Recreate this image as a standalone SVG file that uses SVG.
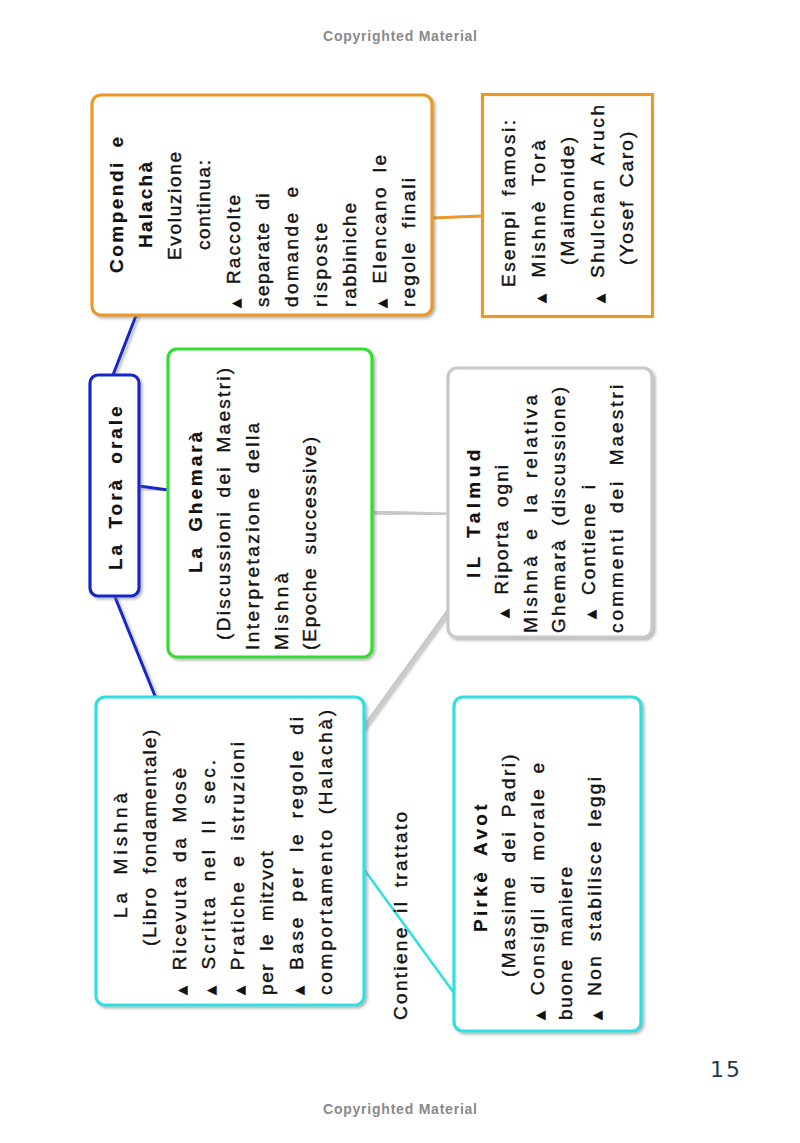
<svg xmlns="http://www.w3.org/2000/svg" width="800" height="1143" viewBox="0 0 800 1143">
<defs>
<filter id="sh" x="-10%" y="-10%" width="130%" height="130%">
<feDropShadow dx="2" dy="2" stdDeviation="1.5" flood-color="#777" flood-opacity="0.55"/>
</filter>
<style>
.t{font-family:"Liberation Sans",Arial,sans-serif;font-size:19px;fill:#111;stroke:#111;stroke-width:0.4;word-spacing:5px}
.b{font-weight:bold;stroke-width:0.2}
.tri{font-family:"DejaVu Sans",sans-serif;font-size:12px}
.box{fill:#fff;stroke-width:3.2}
.orange{stroke:#e99a26}
.green{stroke:#33dd33}
.cyan{stroke:#2fe0e0}
.gray{stroke:#c8c8c8}
.blue{stroke:#1428c8}
.c{fill:none;stroke-linecap:round}
.hdr{font-family:"Liberation Sans",Arial,sans-serif;font-weight:bold;font-size:14px;fill:#8a8a8a}
</style>
</defs>
<rect width="800" height="1143" fill="#fff"/>
<text class="hdr" x="323" y="41" textLength="154">Copyrighted Material</text>
<text class="hdr" x="323" y="1114" textLength="154">Copyrighted Material</text>
<text x="710" y="1077" font-family="DejaVu Sans, sans-serif" font-size="22" fill="#1d3b4a" letter-spacing="2">15</text>

<g id="connectors">
<line class="c blue" x1="137" y1="313" x2="113" y2="375" stroke-width="3" filter="url(#sh)"/>
<line class="c blue" x1="139" y1="486" x2="168" y2="490" stroke-width="3" filter="url(#sh)"/>
<line class="c blue" x1="115" y1="597" x2="155" y2="696" stroke-width="3" filter="url(#sh)"/>
<line class="c orange" x1="432" y1="218" x2="482" y2="216" stroke-width="3"/>
<line class="c gray" x1="373" y1="512" x2="447" y2="514" stroke-width="3" filter="url(#sh)"/>
<line class="c gray" x1="447" y1="612" x2="363" y2="728" stroke-width="3" filter="url(#sh)"/>
<line class="c cyan" x1="363" y1="868" x2="454" y2="993" stroke-width="2.5"/>
<text class="t" transform="translate(407,1020) rotate(-90)" letter-spacing="2.31">Contiene il trattato</text>
</g>

<g id="node-tora">
<rect class="box blue" x="90" y="375" width="49" height="221" rx="8" filter="url(#sh)"/>
<text class="t b" transform="translate(122,570) rotate(-90)" letter-spacing="2.98">La Torà orale</text>
</g>

<g id="node-compendi">
<rect class="box orange" x="92" y="95" width="340" height="220" rx="9" filter="url(#sh)"/>
<text class="t b" transform="translate(123,273) rotate(-90)" letter-spacing="2.48">Compendi e</text>
<text class="t b" transform="translate(152,248) rotate(-90)" letter-spacing="2.18">Halachà</text>
<text class="t" transform="translate(181,260) rotate(-90)" letter-spacing="1.68">Evoluzione</text>
<text class="t" transform="translate(210,250) rotate(-90)" letter-spacing="1.61">continua:</text>
<text class="t" transform="translate(240,308) rotate(-90)" letter-spacing="2.18"><tspan class="tri">▲</tspan> Raccolte</text>
<text class="t" transform="translate(269,307) rotate(-90)" letter-spacing="1.44">separate di</text>
<text class="t" transform="translate(298,307) rotate(-90)" letter-spacing="2.49">domande e</text>
<text class="t" transform="translate(327,307) rotate(-90)" letter-spacing="2.5">risposte</text>
<text class="t" transform="translate(356,307) rotate(-90)" letter-spacing="1.82">rabbiniche</text>
<text class="t" transform="translate(386,308) rotate(-90)" letter-spacing="2.43"><tspan class="tri">▲</tspan> Elencano le</text>
<text class="t" transform="translate(415,307) rotate(-90)" letter-spacing="2.24">regole finali</text>
</g>

<g id="node-esempi">
<rect class="box orange" x="482.5" y="94.5" width="170" height="222" stroke-width="2.6"/>
<text class="t" transform="translate(515,287) rotate(-90)" letter-spacing="2.47">Esempi famosi:</text>
<text class="t" transform="translate(544.5,303) rotate(-90)" letter-spacing="2.93"><tspan class="tri">▲</tspan> Mishnè Torà</text>
<text class="t" transform="translate(574,265) rotate(-90)" letter-spacing="2.24">(Maimonide)</text>
<text class="t" transform="translate(603.5,303) rotate(-90)" letter-spacing="2.7"><tspan class="tri">▲</tspan> Shulchan Aruch</text>
<text class="t" transform="translate(633,265) rotate(-90)" letter-spacing="2.03">(Yosef Caro)</text>
</g>

<g id="node-ghemara">
<rect class="box green" x="168" y="349" width="204" height="308" rx="9" filter="url(#sh)"/>
<text class="t b" transform="translate(202,573) rotate(-90)" letter-spacing="2.91">La Ghemarà</text>
<text class="t" transform="translate(230,640) rotate(-90)" letter-spacing="2.3">(Discussioni dei Maestri)</text>
<text class="t" transform="translate(259,650) rotate(-90)" letter-spacing="2.5">Interpretazione della</text>
<text class="t" transform="translate(288,650) rotate(-90)" letter-spacing="3.16">Mishnà</text>
<text class="t" transform="translate(316,650) rotate(-90)" letter-spacing="1.82">(Epoche successive)</text>
</g>

<g id="node-talmud">
<rect class="box gray" x="448" y="368" width="204" height="269" rx="9" filter="url(#sh)"/>
<text class="t b" transform="translate(480,578) rotate(-90)" letter-spacing="4.41">IL Talmud</text>
<text class="t" transform="translate(508,618) rotate(-90)" letter-spacing="2.0"><tspan class="tri">▲</tspan> Riporta ogni</text>
<text class="t" transform="translate(537,633) rotate(-90)" letter-spacing="3.12">Mishnà e la relativa</text>
<text class="t" transform="translate(565,633) rotate(-90)" letter-spacing="2.23">Ghemarà (discussione)</text>
<text class="t" transform="translate(595,619) rotate(-90)" letter-spacing="2.18"><tspan class="tri">▲</tspan> Contiene i</text>
<text class="t" transform="translate(623,633) rotate(-90)" letter-spacing="3.03">commenti dei Maestri</text>
</g>

<g id="node-mishna">
<rect class="box cyan" x="96" y="697" width="268" height="308" rx="9" filter="url(#sh)"/>
<text class="t" transform="translate(127,918) rotate(-90)" letter-spacing="4.05">La Mishnà</text>
<text class="t" transform="translate(156,946) rotate(-90)" letter-spacing="1.9">(Libro fondamentale)</text>
<text class="t" transform="translate(185.5,995) rotate(-90)" letter-spacing="2.67"><tspan class="tri">▲</tspan> Ricevuta da Mosè</text>
<text class="t" transform="translate(215,995) rotate(-90)" letter-spacing="3.0"><tspan class="tri">▲</tspan> Scritta nel II sec.</text>
<text class="t" transform="translate(244,995) rotate(-90)" letter-spacing="2.62"><tspan class="tri">▲</tspan> Pratiche e istruzioni</text>
<text class="t" transform="translate(273,995) rotate(-90)" letter-spacing="1.6">per le mitzvot</text>
<text class="t" transform="translate(302.5,995) rotate(-90)" letter-spacing="2.92"><tspan class="tri">▲</tspan> Base per le regole di</text>
<text class="t" transform="translate(332,995) rotate(-90)" letter-spacing="2.75">comportamento (Halachà)</text>
</g>

<g id="node-pirke">
<rect class="box cyan" x="454" y="697" width="187" height="334" rx="9" filter="url(#sh)"/>
<text class="t b" transform="translate(487,932) rotate(-90)" letter-spacing="3.33">Pirkè Avot</text>
<text class="t" transform="translate(515,977) rotate(-90)" letter-spacing="2.43">(Massime dei Padri)</text>
<text class="t" transform="translate(544,1020) rotate(-90)" letter-spacing="2.65"><tspan class="tri">▲</tspan> Consigli di morale e</text>
<text class="t" transform="translate(572,1020) rotate(-90)" letter-spacing="1.78">buone maniere</text>
<text class="t" transform="translate(601,1020) rotate(-90)" letter-spacing="2.37"><tspan class="tri">▲</tspan> Non stabilisce leggi</text>
</g>
</svg>
